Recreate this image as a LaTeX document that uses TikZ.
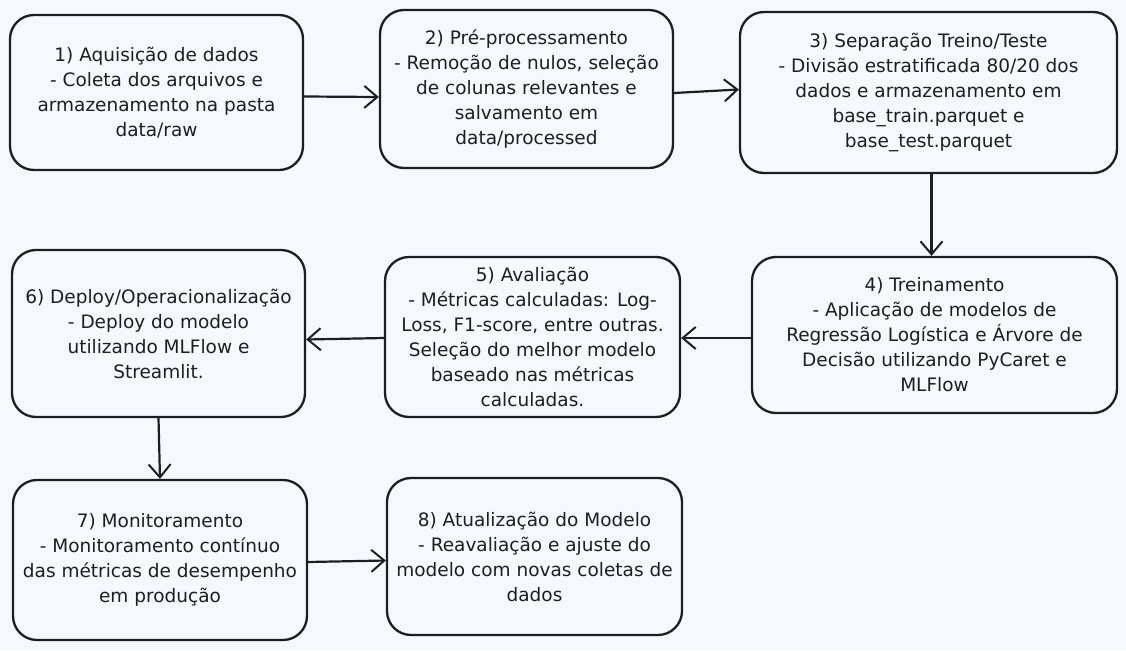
\documentclass[tikz,border=0pt]{standalone}
\usepackage{fontspec}
\setmainfont{DejaVu Sans}
\usetikzlibrary{arrows.meta}
\definecolor{bg}{HTML}{F5F9FD}
\definecolor{ink}{HTML}{1E1E1E}
\tikzset{
  stepbox/.style={draw=ink, line width=2.3pt, rounded corners=24pt, align=center,
    inner sep=0pt, text=ink, font=\fontsize{18.5}{25}\selectfont},
  flow/.style={draw=ink, line width=2.2pt, -{Straight Barb[length=13pt,width=22pt,line width=2pt]}}
}
\begin{document}
\begin{tikzpicture}[x=1pt,y=1pt]
\fill[bg] (0,0) rectangle (1126,-650);
\useasboundingbox (0,0) rectangle (1126,-650);
\node[stepbox, minimum width=293pt, minimum height=155pt] (n1) at (156.5,-92.5)
  {1) Aquisição de dados\\- Coleta dos arquivos e\\armazenamento na pasta\\data/raw};
\node[stepbox, minimum width=293pt, minimum height=158pt] (n2) at (526.5,-89)
  {2) Pré-processamento\\- Remoção de nulos, seleção\\de colunas relevantes e\\salvamento em\\data/processed};
\node[stepbox, minimum width=377pt, minimum height=161pt] (n3) at (928.5,-92.5)
  {3) Separação Treino/Teste\\- Divisão estratificada 80/20 dos\\dados e armazenamento em\\base\_train.parquet e\\base\_test.parquet};
\node[stepbox, minimum width=365pt, minimum height=156pt] (n4) at (934.5,-335)
  {4) Treinamento\\- Aplicação de modelos de\\Regressão Logística e Árvore de\\Decisão utilizando PyCaret e\\MLFlow};
\node[stepbox, minimum width=295pt, minimum height=160pt] (n5) at (532.5,-337)
  {5) Avaliação\\- Métricas calculadas: Log-\\Loss, F1-score, entre outras.\\Seleção do melhor modelo\\baseado nas métricas\\calculadas.};
\node[stepbox, minimum width=293pt, minimum height=167pt] (n6) at (158.5,-333.5)
  {6) Deploy/Operacionalização\\- Deploy do modelo\\utilizando MLFlow e\\Streamlit.};
\node[stepbox, minimum width=294pt, minimum height=160pt] (n7) at (160,-560)
  {7) Monitoramento\\- Monitoramento contínuo\\das métricas de desempenho\\em produção};
\node[stepbox, minimum width=295pt, minimum height=157pt] (n8) at (534.5,-556.5)
  {8) Atualização do Modelo\\- Reavaliação e ajuste do\\modelo com novas coletas de\\dados};
\draw[flow] ([yshift=-4pt]n1.east) -- ([yshift=-8pt]n2.west);
\draw[flow] ([yshift=-4pt]n2.east) -- ([yshift=3pt]n3.west);
\draw[flow] ([xshift=3pt]n3.south) -- ([xshift=-3pt]n4.north);
\draw[flow] ([yshift=-3pt]n4.west) -- ([yshift=-1pt]n5.east);
\draw[flow] ([yshift=-1pt]n5.west) -- ([yshift=-6pt]n6.east);
\draw[flow] (n6.south) -- (n7.north);
\draw[flow] ([yshift=-2pt]n7.east) -- ([yshift=-4pt]n8.west);
\end{tikzpicture}
\end{document}
